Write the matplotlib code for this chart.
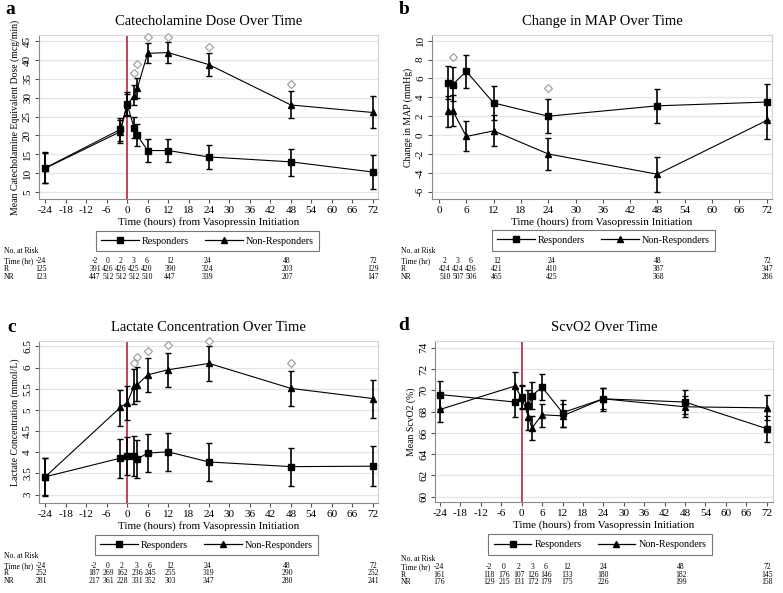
import matplotlib.pyplot as plt
import matplotlib.ticker as mticker
from matplotlib.lines import Line2D

plt.rcParams['font.family'] = ['Liberation Serif', 'DejaVu Serif']
plt.rcParams['axes.unicode_minus'] = False

# ---- data ----
# a: catecholamine dose
cat_hours = [-24, -2, 0, 2, 3, 6, 12, 24, 48, 72]
cat_r = [11.4, 21.6, 28.3, 22.1, 20.0, 16.0, 16.0, 14.3, 13.0, 10.3]
cat_r_lo = [7.3, 18.5, 25.5, 19.2, 17.2, 13.0, 13.0, 11.0, 9.3, 5.9]
cat_r_hi = [15.5, 24.6, 31.6, 25.0, 23.0, 19.0, 19.1, 17.5, 16.5, 14.7]
cat_nr = [11.3, 21.0, 28.0, 30.6, 32.6, 41.8, 42.0, 38.8, 28.1, 26.1]
cat_nr_lo = [7.4, 18.0, 25.3, 28.0, 30.0, 39.3, 39.3, 35.8, 24.6, 22.0]
cat_nr_hi = [15.4, 24.0, 31.0, 33.3, 35.2, 44.5, 44.8, 41.8, 31.8, 30.4]
cat_sig_hours = [2, 3, 6, 12, 24, 48]
cat_sig_y = [36.7, 39.0, 46.1, 46.2, 43.5, 33.6]

# b: change in MAP
map_hours = [2, 3, 6, 12, 24, 48, 72]
map_r = [5.5, 5.35, 6.75, 3.4, 2.0, 3.1, 3.5]
map_r_lo = [3.8, 3.6, 5.0, 1.6, 0.25, 1.3, 1.6]
map_r_hi = [7.3, 7.2, 8.5, 5.2, 3.8, 4.9, 5.4]
map_nr = [2.5, 2.6, -0.15, 0.45, -2.0, -4.15, 1.55]
map_nr_lo = [0.9, 1.0, -1.7, -1.15, -3.7, -6.0, -0.4]
map_nr_hi = [4.1, 4.2, 1.5, 2.1, -0.3, -2.35, 3.5]
map_sig_hours = [3, 24]
map_sig_y = [8.3, 4.95]

# c: lactate
lac_hours = [-24, -2, 0, 2, 3, 6, 12, 24, 48, 72]
lac_r = [3.42, 3.86, 3.92, 3.92, 3.84, 3.98, 4.01, 3.77, 3.66, 3.67]
lac_r_lo = [3.0, 3.38, 3.46, 3.43, 3.38, 3.53, 3.56, 3.33, 3.21, 3.21]
lac_r_hi = [3.87, 4.32, 4.37, 4.39, 4.30, 4.43, 4.45, 4.21, 4.11, 4.15]
lac_nr = [3.42, 5.06, 5.17, 5.56, 5.60, 5.83, 5.95, 6.10, 5.51, 5.27]
lac_nr_lo = [2.97, 4.63, 4.76, 5.15, 5.20, 5.42, 5.54, 5.68, 5.09, 4.82]
lac_nr_hi = [3.87, 5.48, 5.56, 5.97, 6.01, 6.22, 6.35, 6.50, 5.92, 5.71]
lac_sig_hours = [2, 3, 6, 12, 24, 48]
lac_sig_y = [6.11, 6.26, 6.39, 6.53, 6.63, 6.10]

# d: ScvO2
scv_hours = [-24, -2, 0, 2, 3, 6, 12, 24, 48, 72]
scv_r = [69.6, 68.9, 69.4, 68.55, 69.5, 70.3, 67.9, 69.2, 68.9, 66.4]
scv_r_lo = [68.2, 67.5, 68.2, 67.3, 68.2, 69.1, 66.6, 68.1, 67.8, 65.1]
scv_r_hi = [70.9, 70.2, 70.4, 70.0, 70.8, 71.5, 69.1, 70.2, 70.0, 67.6]
scv_nr = [68.2, 70.4, 69.3, 67.5, 66.45, 67.7, 67.6, 69.2, 68.45, 68.35]
scv_nr_lo = [67.0, 69.0, 68.3, 66.3, 65.3, 66.6, 66.6, 68.2, 67.5, 67.2]
scv_nr_hi = [69.4, 71.7, 70.5, 68.8, 67.6, 68.7, 68.7, 70.2, 69.5, 69.6]

# numbers at risk
risk_hours_long = ['-24', '-2', '0', '2', '3', '6', '12', '24', '48', '72']
risk_hours_map = ['2', '3', '6', '12', '24', '48', '72']
cat_risk_r = [125, 391, 426, 426, 425, 420, 390, 324, 203, 129]
cat_risk_nr = [123, 447, 512, 512, 512, 510, 447, 339, 207, 147]
map_risk_r = [424, 424, 426, 421, 410, 387, 347]
map_risk_nr = [510, 507, 506, 465, 425, 368, 286]
lac_risk_r = [252, 187, 269, 162, 236, 245, 255, 319, 290, 252]
lac_risk_nr = [281, 217, 361, 228, 331, 352, 303, 347, 280, 241]
scv_risk_r = [161, 118, 176, 107, 126, 146, 133, 180, 182, 145]
scv_risk_nr = [176, 129, 215, 131, 172, 179, 175, 226, 199, 158]

W, H = 783, 593
fig = plt.figure(figsize=(W / 100, H / 100), dpi=100)


def fx(x):
    return x / W


def fy(y):
    return 1 - y / H


def panel(box, xlim, ylim, yticks, xticks, title, ylabel, redline=True):
    left, top, right, bottom = box
    ax = fig.add_axes([fx(left), fy(bottom), fx(right - left), (bottom - top) / H])
    ax.set_xlim(*xlim)
    ax.set_ylim(*ylim)
    ax.set_xticks(xticks)
    ax.set_yticks(yticks)
    ax.yaxis.set_major_formatter(mticker.FuncFormatter(lambda v, p: '%g' % v))
    ax.yaxis.grid(True, color='#dfe7e7', lw=0.9)
    ax.set_axisbelow(True)
    for s in ['top', 'right']:
        ax.spines[s].set_color('#d4d4d4')
    for s in ['left', 'bottom']:
        ax.spines[s].set_color('#8a8a8a')
    ax.tick_params(colors='#555555', labelcolor='black', labelsize=8, length=3, pad=2)
    ax.tick_params(axis='y', labelrotation=90)
    for lbl in ax.get_yticklabels():
        lbl.set_va('center')
    ax.set_title(title, fontsize=10.5, pad=7)
    ax.set_ylabel(ylabel, fontsize=7, labelpad=2)
    ax.set_xlabel('Time (hours) from Vasopressin Initiation', fontsize=8, labelpad=1.5)
    if redline:
        ax.axvline(0, color='#b3253f', lw=1.2, zorder=1.5)
    return ax


def series(ax, hours, mean, lo, hi, marker):
    err = [[m - l for m, l in zip(mean, lo)], [h - m for m, h in zip(mean, hi)]]
    ax.errorbar(hours, mean, yerr=err, fmt='-' + marker, color='black', ms=4.5,
                lw=0.8, elinewidth=1.2, capsize=2.5, capthick=1, zorder=3)


def sig(ax, hours, ys):
    ax.plot(hours, ys, 'D', ms=4.5, mfc='white', mec='#9a9a9a', mew=0.8,
            ls='none', clip_on=False, zorder=4)


def legend(ax, cx, cy):
    handles = [Line2D([], [], color='black', marker='s', ms=4.5, lw=0.9),
               Line2D([], [], color='black', marker='^', ms=4.5, lw=0.9)]
    leg = ax.legend(handles, ['Responders', 'Non-Responders'], ncol=2, loc='center',
                    bbox_to_anchor=(fx(cx), fy(cy)), bbox_transform=fig.transFigure,
                    fontsize=7.3, handlelength=3.7, columnspacing=1.6, handletextpad=0.3,
                    fancybox=False, borderpad=0.55, borderaxespad=0, framealpha=1)
    leg.get_frame().set_edgecolor('#777777')
    leg.get_frame().set_linewidth(0.8)


def risk_table(x0, ys, cols, hours, r, nr):
    fs = 5.5
    fig.text(fx(x0), fy(ys[0]), 'No. at Risk', fontsize=fs, va='center')
    fig.text(fx(x0), fy(ys[1]), 'Time (hr)', fontsize=fs, va='center')
    fig.text(fx(x0), fy(ys[2]), 'R', fontsize=fs, va='center')
    fig.text(fx(x0), fy(ys[3]), 'NR', fontsize=fs, va='center')
    for c, h, a, b in zip(cols, hours, r, nr):
        fig.text(fx(c), fy(ys[1]), h, fontsize=fs, va='center', ha='center')
        fig.text(fx(c), fy(ys[2]), str(a), fontsize=fs, va='center', ha='center')
        fig.text(fx(c), fy(ys[3]), str(b), fontsize=fs, va='center', ha='center')


hours_ticks = list(range(-24, 73, 6))

# a
ax = panel((39, 35, 378, 199), (-25.85, 73.55), (3.14, 46.67), range(5, 46, 5), hours_ticks,
           'Catecholamine Dose Over Time', 'Mean Catecholamine Equivalent Dose (mcg/min)')
series(ax, cat_hours, cat_r, cat_r_lo, cat_r_hi, 's')
series(ax, cat_hours, cat_nr, cat_nr_lo, cat_nr_hi, '^')
sig(ax, cat_sig_hours, cat_sig_y)
legend(ax, 207.5, 241)
risk_table(4, [251, 261, 269, 277], [41, 95, 108, 121, 134, 147, 170, 207, 287, 373],
           risk_hours_long, cat_risk_r, cat_risk_nr)

# b
ax = panel((432, 35, 772, 199), (-1.54, 73.16), (-6.77, 10.6), range(-6, 11, 2),
           range(0, 73, 6), 'Change in MAP Over Time', 'Change in MAP (mmHg)', redline=False)
series(ax, map_hours, map_r, map_r_lo, map_r_hi, 's')
series(ax, map_hours, map_nr, map_nr_lo, map_nr_hi, '^')
sig(ax, map_sig_hours, map_sig_y)
legend(ax, 603.5, 240.5)
risk_table(401, [251, 261, 269, 277], [445, 458, 471, 497, 552, 658, 767],
           risk_hours_map, map_risk_r, map_risk_nr)

# c
ax = panel((39, 341, 378, 503), (-25.85, 73.55), (2.80, 6.63), [3, 3.5, 4, 4.5, 5, 5.5, 6, 6.5],
           hours_ticks, 'Lactate Concentration Over Time', 'Lactate Concentration (mmol/L)')
series(ax, lac_hours, lac_r, lac_r_lo, lac_r_hi, 's')
series(ax, lac_hours, lac_nr, lac_nr_lo, lac_nr_hi, '^')
sig(ax, lac_sig_hours, lac_sig_y)
legend(ax, 206.5, 545)
risk_table(4, [556, 566, 573, 581], [41, 94, 108, 122, 137, 150, 170, 208, 287, 373],
           risk_hours_long, lac_risk_r, lac_risk_nr)

# d
ax = panel((435, 341, 773, 502), (-25.47, 73.86), (59.51, 74.63), range(60, 75, 2),
           hours_ticks, 'ScvO2 Over Time', 'Mean ScvO2 (%)')
series(ax, scv_hours, scv_r, scv_r_lo, scv_r_hi, 's')
series(ax, scv_hours, scv_nr, scv_nr_lo, scv_nr_hi, '^')
legend(ax, 600, 544.5)
risk_table(401, [559, 567, 575, 582], [439, 489, 504, 519, 533, 546, 567, 603, 681, 767],
           risk_hours_long, scv_risk_r, scv_risk_nr)

# panel letters
for letter, x, y in [('a', 10, 9), ('b', 404, 9), ('c', 12, 327), ('d', 404, 326)]:
    fig.text(fx(x), fy(y), letter, fontsize=14, fontweight='bold', va='center', ha='center')

fig.savefig('out.png', dpi=100)
